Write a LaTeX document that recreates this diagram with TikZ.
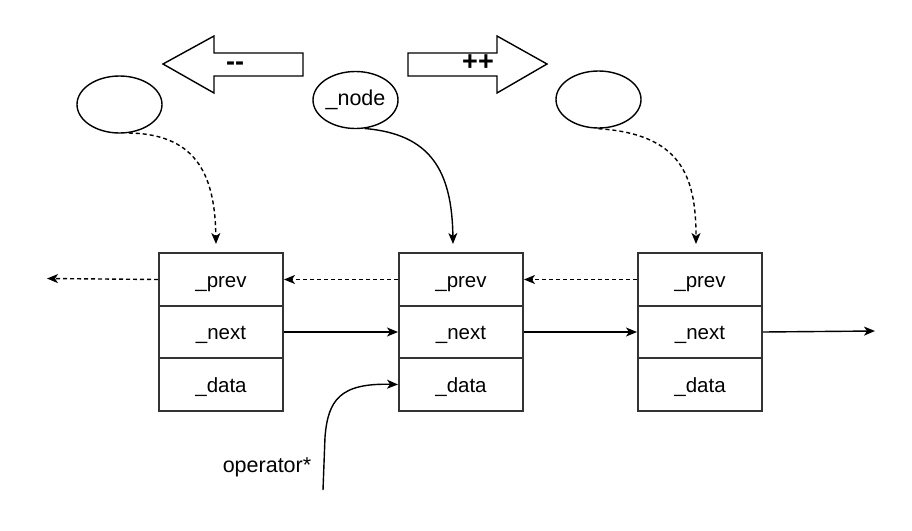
\documentclass[tikz,border=0pt]{standalone}
\usepackage{fontspec}
\setmainfont{Liberation Sans}
\usetikzlibrary{arrows.meta,shapes.geometric}
\begin{document}
\begin{tikzpicture}[x=1pt,y=-1pt,
  cell/.style={draw=black!80,line width=2pt,minimum width=124pt,minimum height=53pt,inner sep=0pt,font=\fontsize{20.5}{23}\selectfont,anchor=north west,text height=15pt,text depth=0pt},
  oval/.style={draw,line width=1.4pt,ellipse,minimum width=85pt,minimum height=57pt,inner sep=0pt,font=\fontsize{21.5}{24}\selectfont},
  con/.style={line width=1.4pt,-{Stealth[length=11pt,width=9pt,inset=3pt]}},
  dcon/.style={con,dash pattern=on 4pt off 3pt},
  blockarrow/.style={draw,line width=1.4pt,line join=miter}
]
\useasboundingbox (0,0) rectangle (912,530);
% block arrows
\draw[blockarrow] (163,64) -- (214,36) -- (214,53) -- (303,53) -- (303,76) -- (214,76) -- (214,93) -- cycle;
\node[font=\bfseries\fontsize{27}{30}\selectfont] (minus) at (235,66) {-{}-};
\draw[blockarrow] (547,64) -- (497,36) -- (497,53) -- (408,53) -- (408,76) -- (497,76) -- (497,93) -- cycle;
\node[font=\bfseries\fontsize{27}{30}\selectfont] (plus) at (478,63) {++};
% ellipses
\node[oval] (e1) at (119.5,104.5) {};
\node[oval] (e2) at (355.5,100) {\_node};
\node[oval] (e3) at (598.5,99.5) {};
% boxes
\foreach \i/\x in {1/158,2/398,3/637}{
  \node[cell] (b\i p) at (\x,252) {\_prev};
  \node[cell,minimum height=52pt] (b\i n) at (\x,305) {\_next};
  \node[cell] (b\i d) at (\x,357) {\_data};
}
\coordinate (lend) at (47,278.5);
\coordinate (rend) at (875,331);
\coordinate (opstart) at (323,490);
% prev links
\draw[dcon] (b1p.west) -- (lend);
\draw[dcon] (b2p.west) -- (b1p.east);
\draw[dcon] (b3p.west) -- (b2p.east);
% next links
\draw[con] (b1n.east) -- (b2n.west);
\draw[con] (b2n.east) -- (b3n.west);
\draw[con] (b3n.east) -- (rend);
% pointers
\draw[dcon] (e1.-72) .. controls (200,134) and (215,180) .. ([xshift=-5pt,yshift=8pt]b1p.north);
\draw[con] (e2.-72) .. controls (430,134) and (452,170) .. ([xshift=-8pt,yshift=8pt]b2p.north);
\draw[dcon] (e3.-90) .. controls (680,134) and (696,175) .. ([xshift=-4pt,yshift=8pt]b3p.north);
% operator*
\node[font=\fontsize{21.5}{24}\selectfont] (op) at (267,467) {operator*};
\draw[con] (opstart) -- (325,437) .. controls (328,400) and (340,383) .. (b2d.west);
\end{tikzpicture}
\end{document}
